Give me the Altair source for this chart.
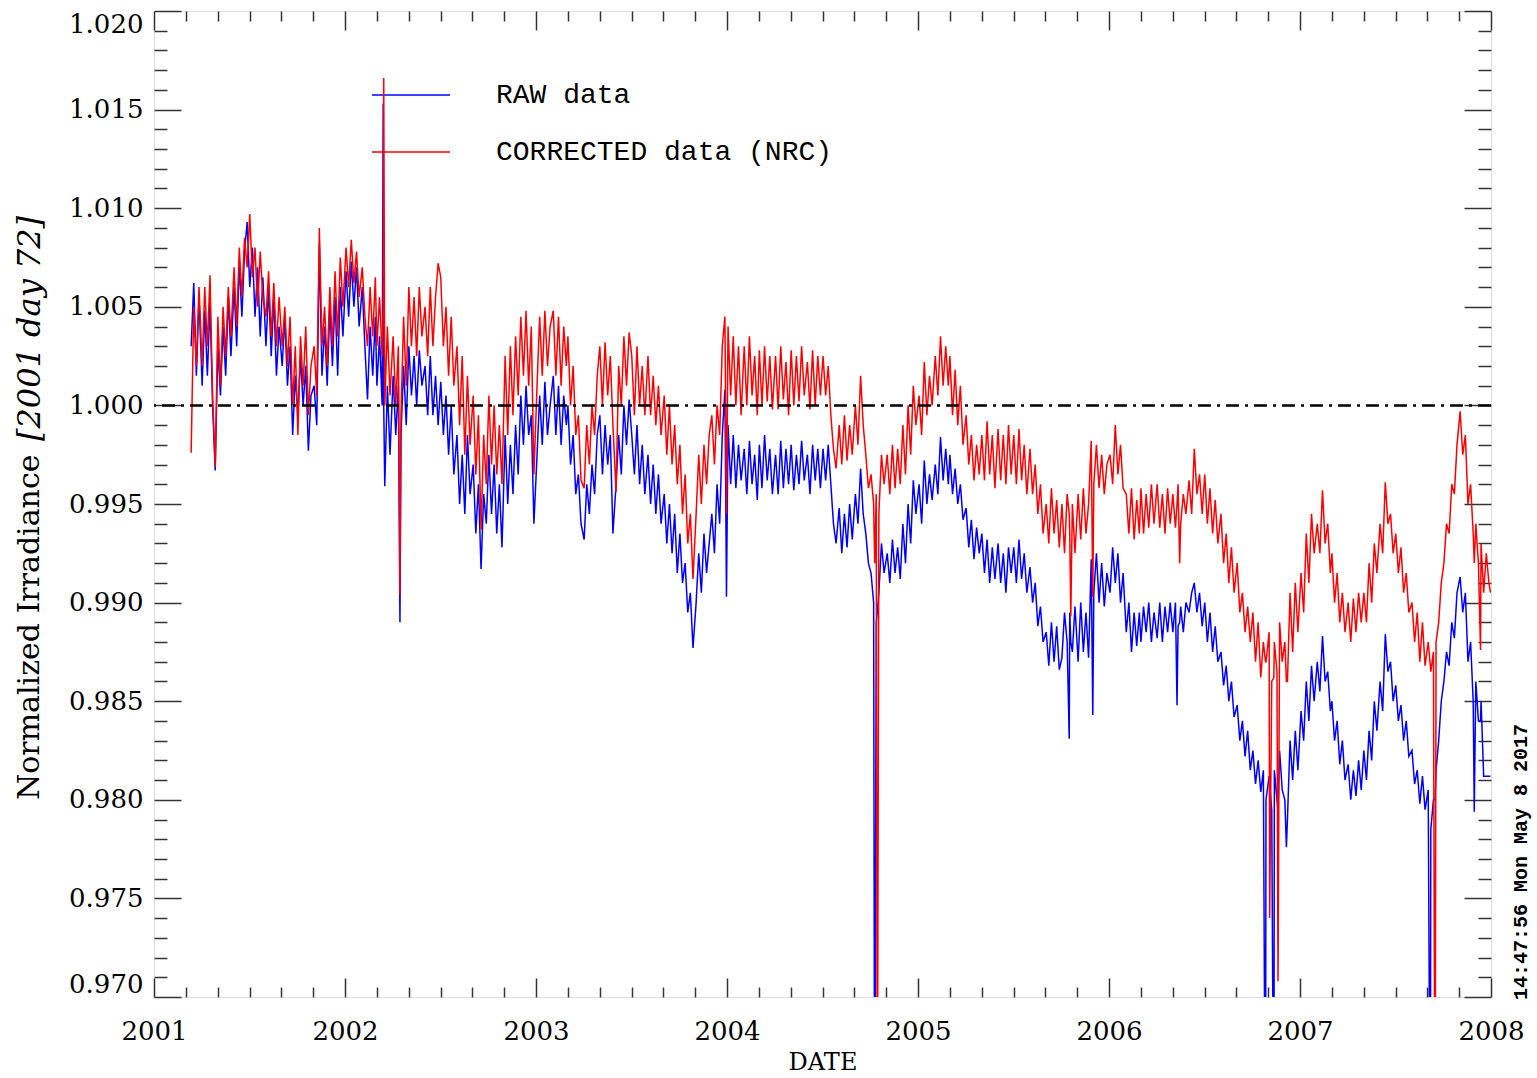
import altair as alt
import pandas as pd

# ---------------- data ----------------
series_names = ["RAW data", "CORRECTED data (NRC)"]
series_colors = ["#0000ff", "#ff0000"]

# regular readings: days 3, 8, 13, 18, 23, 28 of every month, Apr 2001 .. Dec 2007
sample_days = [3, 8, 13, 18, 23, 28]
months = [f"{y}-{m:02d}" for y in range(2001, 2008) for m in range(1, 13)][3:]

raw_2001 = [
    1.0010, 1.0048, 1.0015, 1.0052, 1.0000, 0.9967,
    1.0030, 1.0005, 1.0040, 1.0015, 1.0055, 1.0025,
    1.0060, 1.0030, 1.0072, 1.0045, 1.0078, 1.0093,
    1.0060, 1.0080, 1.0045, 1.0070, 1.0035, 1.0065,
    1.0030, 1.0060, 1.0025, 1.0055, 1.0015, 1.0040,
    1.0020, 1.0045, 1.0010, 1.0030, 0.9985, 1.0015,
    0.9995, 1.0025, 1.0000, 1.0020, 0.9977, 1.0005,
    1.0010, 0.9990, 1.0082, 1.0015, 1.0040, 1.0010,
    1.0050, 1.0020, 1.0055, 1.0015, 1.0060, 1.0035,
]
raw_2002 = [
    1.0068, 1.0045, 1.0073, 1.0050, 1.0070, 1.0040,
    1.0060, 1.0030, 1.0003, 1.0040, 1.0015, 1.0045,
    1.0010, 1.0035, 1.0000, 0.9959, 1.0010, 0.9975,
    1.0015, 0.9985, 1.0010, 0.9985, 1.0020, 0.9990,
    1.0030, 1.0005, 1.0025, 1.0000, 1.0028, 1.0010,
    1.0020, 0.9995, 1.0025, 0.9995, 1.0015, 0.9990,
    1.0012, 0.9985, 1.0005, 0.9975, 1.0000, 0.9965,
    0.9985, 0.9950, 0.9975, 0.9945, 0.9985, 0.9955,
    0.9970, 0.9935, 0.9960, 0.9917, 0.9955, 0.9940,
    0.9975, 0.9945, 0.9970, 0.9935, 0.9960, 0.9928,
    0.9985, 0.9950, 0.9980, 0.9955, 0.9990, 0.9965,
    1.0005, 0.9980, 1.0010, 0.9985, 0.9995, 0.9940,
]
raw_2003 = [
    0.9975, 1.0005, 0.9980, 1.0012, 0.9985, 1.0000,
    1.0015, 0.9985, 1.0010, 0.9980, 1.0005, 0.9990,
    1.0000, 0.9970, 0.9985, 0.9955, 0.9965, 0.9940,
    0.9932, 0.9960, 0.9945, 0.9970, 0.9955, 0.9985,
    0.9995, 0.9965, 0.9990, 0.9970, 0.9985, 0.9935,
    0.9960, 0.9985, 0.9965, 1.0000, 0.9980, 1.0003,
    0.9985, 0.9965, 0.9990, 0.9960, 0.9980, 0.9955,
    0.9975, 0.9950, 0.9970, 0.9945, 0.9965, 0.9940,
    0.9955, 0.9930, 0.9950, 0.9925, 0.9945, 0.9915,
    0.9935, 0.9910, 0.9920, 0.9895, 0.9905, 0.9877,
    0.9900, 0.9925, 0.9905, 0.9935, 0.9915, 0.9930,
    0.9945, 0.9925, 0.9960, 0.9940, 0.9985, 1.0008,
]
raw_2004 = [
    0.9990, 0.9960, 0.9985, 0.9958, 0.9980, 0.9962,
    0.9978, 0.9955, 0.9982, 0.9960, 0.9975, 0.9952,
    0.9980, 0.9958, 0.9985, 0.9962, 0.9978, 0.9955,
    0.9975, 0.9955, 0.9982, 0.9958, 0.9978, 0.9960,
    0.9980, 0.9957, 0.9975, 0.9960, 0.9982, 0.9962,
    0.9975, 0.9955, 0.9980, 0.9962, 0.9978, 0.9958,
    0.9978, 0.9962, 0.9980, 0.9960, 0.9940, 0.9930,
    0.9948, 0.9925, 0.9945, 0.9928, 0.9950, 0.9932,
    0.9955, 0.9940, 0.9968, 0.9945, 0.9935, 0.9920,
    0.9915, 0.9900, 0.9890, 0.9905, 0.9930, 0.9915,
    0.9925, 0.9910, 0.9932, 0.9915, 0.9928, 0.9912,
    0.9940, 0.9920, 0.9950, 0.9930, 0.9962, 0.9945,
]
raw_2005 = [
    0.9960, 0.9940, 0.9972, 0.9950, 0.9965, 0.9952,
    0.9970, 0.9955, 0.9984, 0.9962, 0.9978, 0.9960,
    0.9975, 0.9955, 0.9968, 0.9950, 0.9960, 0.9942,
    0.9948, 0.9928, 0.9942, 0.9922, 0.9938, 0.9925,
    0.9935, 0.9915, 0.9932, 0.9910, 0.9928, 0.9912,
    0.9930, 0.9910, 0.9925, 0.9905, 0.9928, 0.9915,
    0.9928, 0.9910, 0.9932, 0.9912, 0.9925, 0.9905,
    0.9918, 0.9900, 0.9910, 0.9888, 0.9898, 0.9880,
    0.9885, 0.9868, 0.9890, 0.9870, 0.9888, 0.9866,
    0.9872, 0.9895, 0.9880, 0.9895, 0.9875, 0.9898,
    0.9870, 0.9900, 0.9875, 0.9895, 0.9872, 0.9922,
    0.9905, 0.9925, 0.9900, 0.9920, 0.9898, 0.9915,
]
raw_2006 = [
    0.9905, 0.9928, 0.9910, 0.9925, 0.9900, 0.9915,
    0.9885, 0.9900, 0.9875, 0.9895, 0.9878, 0.9895,
    0.9880, 0.9898, 0.9885, 0.9900, 0.9880, 0.9895,
    0.9882, 0.9900, 0.9880, 0.9898, 0.9885, 0.9900,
    0.9885, 0.9900, 0.9888, 0.9898, 0.9885, 0.9900,
    0.9895, 0.9905, 0.9910, 0.9895, 0.9905, 0.9888,
    0.9900, 0.9880, 0.9895, 0.9875, 0.9888, 0.9870,
    0.9875, 0.9858, 0.9868, 0.9850, 0.9860, 0.9842,
    0.9848, 0.9830, 0.9840, 0.9822, 0.9835, 0.9815,
    0.9825, 0.9808, 0.9820, 0.9804, 0.9815, 0.9800,
    0.9812, 0.9795, 0.9815, 0.9800, 0.9825, 0.9805,
    0.9800, 0.9790, 0.9830, 0.9810, 0.9835, 0.9815,
]
raw_2007 = [
    0.9845, 0.9830, 0.9860, 0.9840, 0.9868, 0.9850,
    0.9870, 0.9855, 0.9883, 0.9860, 0.9865, 0.9845,
    0.9850, 0.9830, 0.9840, 0.9818, 0.9830, 0.9810,
    0.9818, 0.9800, 0.9815, 0.9802, 0.9820, 0.9805,
    0.9825, 0.9810, 0.9835, 0.9820, 0.9850, 0.9835,
    0.9860, 0.9845, 0.9884, 0.9865, 0.9870, 0.9850,
    0.9858, 0.9840, 0.9848, 0.9830, 0.9840, 0.9822,
    0.9825, 0.9808, 0.9815, 0.9798, 0.9812, 0.9795,
    0.9805, 0.9785, 0.9800, 0.9815, 0.9830, 0.9850,
    0.9860, 0.9875, 0.9868, 0.9890, 0.9882, 0.9905,
    0.9913, 0.9895, 0.9905, 0.9870, 0.9880, 0.9850,
    0.9860, 0.9840, 0.9850, 0.9812, 0.9812, 0.9812,
]

cor_2001 = [
    1.0020, 1.0060, 1.0030, 1.0066, 1.0005, 0.9969,
    1.0045, 1.0010, 1.0050, 1.0025, 1.0060, 1.0035,
    1.0070, 1.0040, 1.0080, 1.0055, 1.0085, 1.0070,
    1.0097, 1.0065, 1.0080, 1.0050, 1.0078, 1.0055,
    1.0045, 1.0068, 1.0035, 1.0062, 1.0030, 1.0055,
    1.0030, 1.0050, 1.0020, 1.0045, 1.0000, 1.0030,
    0.9985, 1.0035, 1.0010, 1.0040, 0.9995, 1.0020,
    1.0030, 1.0005, 1.0090, 1.0030, 1.0050, 1.0020,
    1.0060, 1.0030, 1.0068, 1.0035, 1.0075, 1.0050,
]
cor_2002 = [
    1.0080, 1.0060, 1.0084, 1.0062, 1.0078, 1.0055,
    1.0070, 1.0045, 1.0030, 1.0060, 1.0035, 1.0065,
    1.0030, 1.0055, 1.0025, 1.0000, 1.0040, 1.0005,
    1.0035, 1.0000, 1.0030, 0.9995, 1.0045, 1.0010,
    1.0060, 1.0030, 1.0055, 1.0025, 1.0060, 1.0035,
    1.0050, 1.0025, 1.0060, 1.0030, 1.0055, 1.0072,
    1.0065, 1.0030, 1.0050, 1.0015, 1.0045, 1.0010,
    1.0030, 0.9990, 1.0025, 0.9975, 1.0015, 0.9980,
    1.0005, 0.9965, 0.9995, 0.9937, 0.9985, 0.9960,
    1.0005, 0.9970, 1.0000, 0.9965, 0.9990, 0.9960,
    1.0025, 0.9985, 1.0030, 0.9995, 1.0035, 1.0005,
    1.0045, 1.0015, 1.0048, 1.0010, 1.0040, 0.9965,
]
cor_2003 = [
    1.0010, 1.0045, 1.0015, 1.0048, 1.0020, 1.0040,
    1.0048, 1.0015, 1.0045, 1.0010, 1.0040, 1.0020,
    1.0035, 1.0000, 1.0020, 0.9985, 0.9995, 0.9962,
    0.9958, 0.9990, 0.9970, 1.0000, 0.9985, 1.0015,
    1.0030, 1.0000, 1.0032, 1.0005, 1.0025, 0.9990,
    0.9956, 1.0020, 1.0000, 1.0035, 1.0010, 1.0037,
    1.0025, 0.9995, 1.0030, 1.0000, 1.0020, 0.9995,
    1.0025, 0.9995, 1.0015, 0.9990, 1.0010, 0.9985,
    1.0005, 0.9975, 1.0000, 0.9970, 0.9990, 0.9960,
    0.9980, 0.9945, 0.9965, 0.9930, 0.9945, 0.9912,
    0.9945, 0.9975, 0.9950, 0.9980, 0.9960, 0.9985,
    0.9995, 0.9970, 1.0000, 0.9985, 1.0030, 1.0045,
]
cor_2004 = [
    1.0040, 1.0005, 1.0035, 1.0000, 1.0030, 0.9995,
    1.0030, 1.0000, 1.0035, 1.0005, 1.0025, 0.9995,
    1.0028, 1.0000, 1.0030, 1.0002, 1.0025, 0.9998,
    1.0025, 0.9998, 1.0030, 1.0003, 1.0022, 0.9995,
    1.0028, 1.0000, 1.0025, 1.0002, 1.0030, 1.0005,
    1.0022, 0.9998, 1.0028, 1.0000, 1.0025, 1.0005,
    1.0025, 1.0005, 1.0020, 0.9995, 0.9978, 0.9968,
    0.9990, 0.9970, 0.9995, 0.9972, 0.9990, 0.9975,
    1.0000, 0.9980, 1.0015, 0.9990, 0.9975, 0.9958,
    0.9965, 0.9950, 0.9955, 0.9945, 0.9975, 0.9960,
    0.9975, 0.9955, 0.9980, 0.9958, 0.9978, 0.9960,
    0.9990, 0.9965, 1.0000, 0.9975, 1.0010, 0.9990,
]
cor_2005 = [
    1.0005, 0.9985, 1.0022, 0.9995, 1.0015, 1.0000,
    1.0025, 1.0005, 1.0035, 1.0010, 1.0030, 1.0010,
    1.0025, 0.9995, 1.0018, 0.9990, 1.0010, 0.9980,
    0.9995, 0.9970, 0.9985, 0.9962, 0.9980, 0.9965,
    0.9985, 0.9962, 0.9992, 0.9965, 0.9985, 0.9958,
    0.9988, 0.9962, 0.9985, 0.9960, 0.9990, 0.9965,
    0.9985, 0.9960, 0.9988, 0.9962, 0.9980, 0.9955,
    0.9978, 0.9955, 0.9970, 0.9945, 0.9960, 0.9935,
    0.9950, 0.9930, 0.9958, 0.9935, 0.9952, 0.9928,
    0.9950, 0.9925, 0.9955, 0.9935, 0.9950, 0.9925,
    0.9955, 0.9932, 0.9958, 0.9935, 0.9950, 0.9982,
    0.9960, 0.9980, 0.9958, 0.9975, 0.9955, 0.9970,
]
cor_2006 = [
    0.9975, 0.9960, 0.9990, 0.9965, 0.9980, 0.9958,
    0.9955, 0.9935, 0.9958, 0.9932, 0.9952, 0.9935,
    0.9958, 0.9935, 0.9955, 0.9938, 0.9960, 0.9940,
    0.9960, 0.9938, 0.9955, 0.9935, 0.9958, 0.9940,
    0.9955, 0.9938, 0.9960, 0.9940, 0.9955, 0.9945,
    0.9962, 0.9945, 0.9978, 0.9955, 0.9965, 0.9945,
    0.9965, 0.9940, 0.9958, 0.9935, 0.9952, 0.9930,
    0.9945, 0.9920, 0.9935, 0.9910, 0.9928, 0.9905,
    0.9920, 0.9895, 0.9905, 0.9885, 0.9898, 0.9880,
    0.9895, 0.9870, 0.9890, 0.9862, 0.9880, 0.9870,
    0.9885, 0.9860, 0.9880, 0.9865, 0.9890, 0.9870,
    0.9880, 0.9860, 0.9905, 0.9875, 0.9910, 0.9885,
]
cor_2007 = [
    0.9915, 0.9895, 0.9935, 0.9910, 0.9945, 0.9925,
    0.9940, 0.9925, 0.9957, 0.9930, 0.9940, 0.9915,
    0.9925, 0.9900, 0.9915, 0.9890, 0.9905, 0.9885,
    0.9900, 0.9880, 0.9902, 0.9885, 0.9905, 0.9890,
    0.9905, 0.9890, 0.9920, 0.9900, 0.9930, 0.9915,
    0.9940, 0.9925, 0.9961, 0.9940, 0.9945, 0.9925,
    0.9935, 0.9915, 0.9928, 0.9905, 0.9915, 0.9895,
    0.9900, 0.9880, 0.9895, 0.9870, 0.9890, 0.9868,
    0.9880, 0.9865, 0.9875, 0.9880, 0.9890, 0.9910,
    0.9920, 0.9940, 0.9935, 0.9960, 0.9955, 0.9980,
    0.9997, 0.9975, 0.9985, 0.9950, 0.9960, 0.9935,
    0.9940, 0.9920, 0.9930, 0.9905, 0.9925, 0.9910,
]

# extra readings: start of record, spikes, drop-outs and end of record
extra_dates = [
    "2001-03-13", "2001-03-18", "2001-03-23", "2001-03-28",
    "2002-03-15", "2002-03-16", "2002-04-16", "2003-12-31",
    "2004-10-10", "2004-10-15", "2005-10-17", "2005-10-20", "2005-12-01",
    "2006-05-11", "2006-05-16", "2006-10-27", "2006-11-04", "2006-11-12",
    "2006-11-20", "2006-12-06", "2007-09-07", "2007-09-16",
    "2007-11-30", "2007-12-12", "2007-12-31",
]
extra_raw = [
    1.0030, 1.0062, 1.0015, 1.0055,
    1.0153, 1.0000, 0.9890, 0.9903,
    0.9600, 0.9895, 0.9831, 0.9880, 0.9843,
    0.9848, 0.9890, 0.9600, 0.9808, 0.9600,
    0.9795, 0.9776, 0.9600, 0.9800,
    0.9794, 0.9840, 0.9812,
]
extra_cor = [
    0.9976, 1.0050, 1.0020, 1.0060,
    1.0050, 1.0166, 0.9904, 0.9945,
    0.9920, 0.9600, 0.9945, 0.9893, 0.9903,
    0.9950, 0.9920, 0.9870, 0.9740, 0.9862,
    0.9708, 0.9860, 0.9868, 0.9600,
    0.9920, 0.9876, 0.9905,
]

x_ticks_major = [2001, 2002, 2003, 2004, 2005, 2006, 2007, 2008]
y_ticks_major = [0.970, 0.975, 0.980, 0.985, 0.990, 0.995, 1.000, 1.005, 1.010, 1.015, 1.020]

y_label_main = "Normalized Irradiance"
y_label_ref = "[2001 day 72]"
x_label = "DATE"
stamp = "14:47:56 Mon May  8 2017"

# ---------------- table ----------------
raw_regular = raw_2001 + raw_2002 + raw_2003 + raw_2004 + raw_2005 + raw_2006 + raw_2007
cor_regular = cor_2001 + cor_2002 + cor_2003 + cor_2004 + cor_2005 + cor_2006 + cor_2007
reg_dates = [f"{m}-{d:02d}" for m in months for d in sample_days]
assert len(reg_dates) == len(raw_regular) == len(cor_regular), (len(reg_dates), len(raw_regular), len(cor_regular))

df = pd.DataFrame({
    "date": pd.to_datetime(reg_dates + extra_dates),
    series_names[0]: raw_regular + extra_raw,
    series_names[1]: cor_regular + extra_cor,
}).sort_values("date")
df["year"] = df["date"].dt.year + (df["date"].dt.dayofyear - 1) / (
    365 + df["date"].dt.is_leap_year.astype(int))
long = df.drop(columns="date").melt(id_vars=["year"], value_vars=series_names,
                                    var_name="series", value_name="value")

# ---------------- layout ----------------
W, H = 1337, 986
FRAME = "#333333"
SERIF = "DejaVu Serif"
MONO = "Liberation Mono"

xscale = alt.Scale(domain=[2001, 2008], nice=False, zero=False)
yscale = alt.Scale(domain=[0.970, 1.020], nice=False, zero=False)
color = alt.Color("series:N", scale=alt.Scale(domain=series_names, range=series_colors), legend=None)

x_minor_vals = [2001 + i / 6 for i in range(43)]
y_minor_vals = [round(0.970 + i * 0.001, 3) for i in range(51)]
x_tick_size = {"condition": {"test": "abs(datum.value - round(datum.value)) < 0.01", "value": 19}, "value": 10}
y_tick_size = {"condition": {"test": "abs(datum.value * 200 - round(datum.value * 200)) < 0.01", "value": 27}, "value": 13}


def tick_axis(orient, offset, vals, size):
    return alt.Axis(orient=orient, offset=offset, values=vals, labels=False, domain=False,
                    grid=False, title=None, tickSize=size, tickColor=FRAME, tickWidth=1.5)


base = alt.Chart(long)

blue = base.transform_filter(alt.datum.series == series_names[0]).mark_line(
    strokeWidth=1.5, clip=True).encode(
    x=alt.X("year:Q", scale=xscale, axis=alt.Axis(
        orient="bottom", values=x_ticks_major, format="d", ticks=False, tickSize=0,
        domain=False, grid=False, labelFont=SERIF, labelFontSize=26, labelColor="black",
        labelPadding=21, labelFlush=False, title=x_label, titleFont=SERIF, titleFontSize=24,
        titleFontWeight="normal", titleColor="black", titlePadding=6)),
    y=alt.Y("value:Q", scale=yscale, axis=alt.Axis(
        orient="left", values=y_ticks_major, format=".3f", ticks=False, tickSize=0,
        domain=False, grid=False, labelFont=SERIF, labelFontSize=26, labelColor="black",
        labelPadding=11, labelFlush=True, title=None)),
    color=color,
)

red = base.transform_filter(alt.datum.series == series_names[1]).mark_line(
    strokeWidth=1.5, clip=True).encode(
    x=alt.X("year:Q", scale=xscale, axis=None),
    y=alt.Y("value:Q", scale=yscale, axis=None),
    color=color,
)

ticks_a = base.mark_point(opacity=0).encode(
    x=alt.X("year:Q", scale=xscale, axis=tick_axis("top", -H, x_minor_vals, x_tick_size)),
    y=alt.Y("value:Q", scale=yscale, axis=tick_axis("right", -W, y_minor_vals, y_tick_size)),
)
ticks_b = base.mark_point(opacity=0).encode(
    x=alt.X("year:Q", scale=xscale, axis=tick_axis("bottom", -H, x_minor_vals, x_tick_size)),
    y=alt.Y("value:Q", scale=yscale, axis=tick_axis("left", -W, y_minor_vals, y_tick_size)),
)

ref_line = alt.Chart(pd.DataFrame({"v": [1.0]})).mark_rule(
    color="black", strokeWidth=2.5, strokeDash=[13, 6, 3, 6]).encode(
    y=alt.Y("v:Q", scale=yscale, axis=None))

# legend (drawn manually, as in the original)
leg_rows = []
for name, col, ypix in zip(series_names, series_colors, [84, 141]):
    one = alt.Chart(pd.DataFrame({"label": [name]}))
    leg_rows.append(one.mark_rule(color=col, strokeWidth=1.5).encode(
        x=alt.value(218), x2=alt.value(296), y=alt.value(ypix)))
    leg_rows.append(one.mark_text(align="left", baseline="middle", font=MONO,
                                  fontSize=28, color="black").encode(
        x=alt.value(342), y=alt.value(ypix), text="label:N"))

ytitle1 = alt.Chart(pd.DataFrame({"t": [y_label_main]})).mark_text(
    angle=270, align="left", baseline="middle", font=SERIF, fontSize=30, color="black").encode(
    x=alt.value(-124), y=alt.value(789), text="t:N")
ytitle2 = alt.Chart(pd.DataFrame({"t": [y_label_ref]})).mark_text(
    angle=270, align="left", baseline="middle", font=SERIF, fontSize=32, fontStyle="italic",
    color="black").encode(x=alt.value(-124), y=alt.value(430), text="t:N")
stamp_text = alt.Chart(pd.DataFrame({"t": [stamp]})).mark_text(
    angle=270, align="left", baseline="middle", font=MONO, fontSize=20, fontWeight="bold",
    color="black").encode(x=alt.value(1367), y=alt.value(989), text="t:N")

chart = alt.layer(
    *leg_rows, blue, red, ref_line, ticks_a, ticks_b, ytitle1, ytitle2, stamp_text
).resolve_axis(x="independent", y="independent").properties(
    width=W, height=H,
    autosize=alt.AutoSizeParams(type="none"),
    padding={"left": 154, "top": 11, "right": 46, "bottom": 81},
).configure_view(stroke=FRAME, strokeWidth=2).configure(background="white")

chart.save("out.html", embed_options={"renderer": "svg", "actions": False})
